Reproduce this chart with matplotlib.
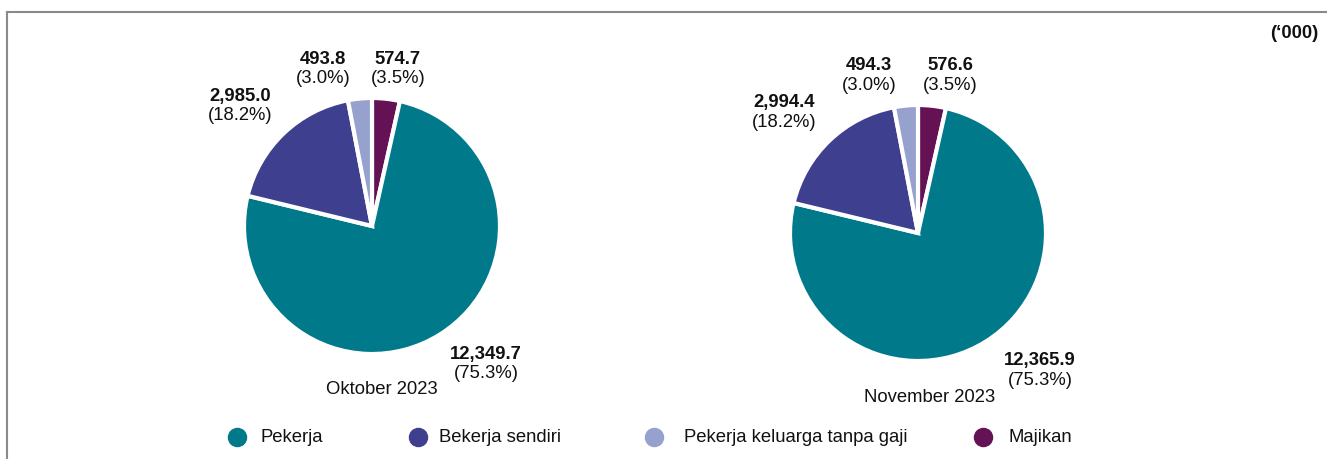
import matplotlib
matplotlib.use("Agg")
import matplotlib.pyplot as plt
from matplotlib.lines import Line2D

plt.rcParams['font.family'] = ['Liberation Sans', 'DejaVu Sans']

categories = ["Pekerja", "Bekerja sendiri", "Pekerja keluarga tanpa gaji", "Majikan"]
colors = ["#007A8A", "#3F3F8F", "#97A1CE", "#651254"]
oct_values = [12349.7, 2985.0, 493.8, 574.7]
oct_pct = [75.3, 18.2, 3.0, 3.5]
nov_values = [12365.9, 2994.4, 494.3, 576.6]
nov_pct = [75.3, 18.2, 3.0, 3.5]
titles = ["Oktober 2023", "November 2023"]
unit_label = "(‘000)"

W, H = 1327, 459
FS = 13.3
fig = plt.figure(figsize=(W / 100, H / 100), dpi=100)


def px(x, y):
    return x / W, 1 - y / H


# frame lines (top and left)
fig.add_artist(Line2D([6.5 / W, 1.0], [1 - 11.5 / H] * 2, color="#8a8a8a", lw=1.5))
fig.add_artist(Line2D([6.5 / W] * 2, [0, 1 - 11.5 / H], color="#8a8a8a", lw=1.5))

# draw order: Majikan first clockwise from top
order = [3, 0, 1, 2]

pies = [
    dict(cx=372, cy=226, r=128, vals=oct_values, pct=oct_pct, title=titles[0],
         title_pos=(382, 390),
         lab=[(486, 354), (240, 96), (323, 59), (398, 59)]),
    dict(cx=918, cy=233, r=128, vals=nov_values, pct=nov_pct, title=titles[1],
         title_pos=(930, 397),
         lab=[(1040, 361), (784, 103), (869, 66), (950, 66)]),
]

for p in pies:
    l, b = px(p["cx"] - p["r"], p["cy"] + p["r"])
    ax = fig.add_axes([l, b, 2 * p["r"] / W, 2 * p["r"] / H])
    ax.pie([p["vals"][i] for i in order], colors=[colors[i] for i in order],
           startangle=90, counterclock=False, radius=1,
           wedgeprops=dict(edgecolor="white", linewidth=3))
    ax.set_xlim(-1.0, 1.0)
    ax.set_ylim(-1.0, 1.0)
    ax.set_aspect("equal")
    ax.axis("off")
    for i, (x, y) in enumerate(p["lab"]):
        fx, fy = px(x, y)
        fig.text(fx, fy, f"{p['vals'][i]:,.1f}", ha="center", va="center",
                 fontsize=FS, fontweight="bold", color="#111111")
        fx2, fy2 = px(x, y + 19.5)
        fig.text(fx2, fy2, f"({p['pct'][i]:.1f}%)", ha="center", va="center",
                 fontsize=FS, color="#111111")
    tx, ty = px(*p["title_pos"])
    fig.text(tx, ty, p["title"], ha="center", va="center", fontsize=FS, color="#111111")

ux, uy = px(1318, 33)
fig.text(ux, uy, unit_label, ha="right", va="center", fontsize=FS,
         fontweight="bold", color="#111111")

leg_x = [237, 418, 654, 983]
leg_tx = [260, 439, 684, 1008]
for i, cat in enumerate(categories):
    mx, my = px(leg_x[i], 437)
    fig.add_artist(Line2D([mx], [my], marker="o", linestyle="none", markersize=13,
                          markerfacecolor=colors[i], markeredgecolor=colors[i]))
    tx, ty = px(leg_tx[i], 437)
    fig.text(tx, ty, cat, ha="left", va="center", fontsize=FS, color="#111111")

fig.savefig("out.png", dpi=100)
